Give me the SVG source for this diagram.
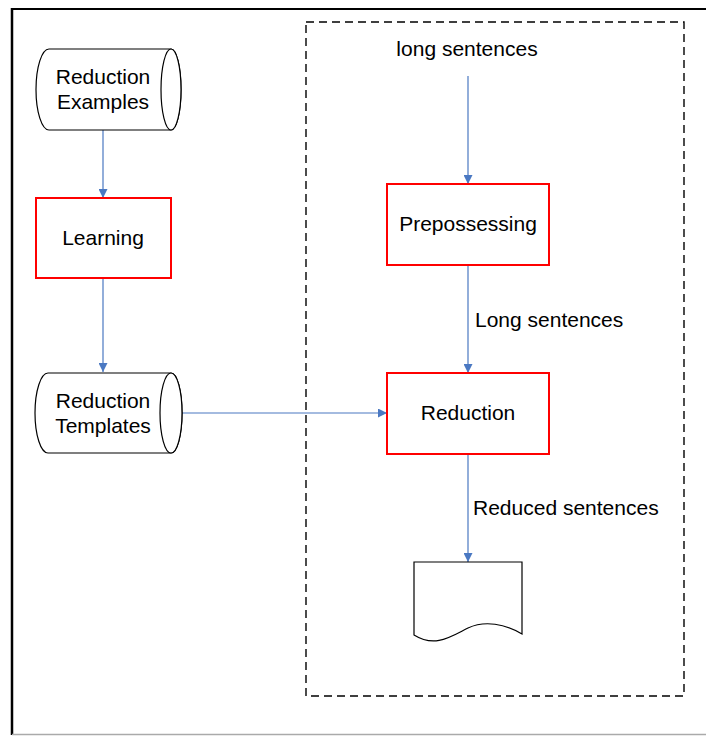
<svg xmlns="http://www.w3.org/2000/svg" width="706" height="736" viewBox="0 0 706 736">
<style>
text{font-family:"Liberation Sans",Arial,sans-serif;font-size:21px;fill:#000}
.c{text-anchor:middle}
.proc{fill:#fff;stroke:#ff0000;stroke-width:2}
.shape{fill:#fff;stroke:#000;stroke-width:1.2}
.conn{fill:none;stroke:#4a78c2;stroke-width:1.2;marker-end:url(#ah)}
</style>
<defs>
<marker id="ah" viewBox="0 0 10 10" refX="10" refY="5" markerWidth="9" markerHeight="9" markerUnits="userSpaceOnUse" orient="auto">
<path d="M0,0 L10,5 L0,10 z" fill="#4a78c2"/>
</marker>
</defs>
<rect width="706" height="736" fill="#fff"/>
<g id="frame">
<line x1="11" y1="9" x2="706" y2="9" stroke="#000" stroke-width="2"/>
<line x1="12" y1="8" x2="12" y2="735" stroke="#000" stroke-width="2.5"/>
<line x1="12" y1="734.5" x2="706" y2="734.5" stroke="#aaa" stroke-width="1.5"/>
</g>
<g id="boundary">
<rect x="306" y="22" width="378" height="674" fill="none" stroke="#000" stroke-width="1.4" stroke-dasharray="8,5"/>
</g>
<g id="connectors">
<line class="conn" x1="103" y1="130" x2="103" y2="198"/>
<line class="conn" x1="103" y1="279" x2="103" y2="372"/>
<line class="conn" x1="182" y1="413" x2="387" y2="413"/>
<line class="conn" x1="468" y1="76" x2="468" y2="184"/>
<line class="conn" x1="468" y1="266" x2="468" y2="373"/>
<line class="conn" x1="468" y1="455" x2="468" y2="562"/>
</g>
<g id="reduction-examples">
<path class="shape" d="M49,49 L171,49 A10,40.5 0 0 1 171,130 L49,130 A13,40.5 0 0 1 49,49 Z"/>
<ellipse class="shape" cx="171" cy="89.5" rx="10" ry="40.5"/>
<text class="c" x="103" y="84">Reduction</text>
<text class="c" x="103" y="109">Examples</text>
</g>
<g id="learning">
<rect class="proc" x="36" y="198" width="135" height="80"/>
<text class="c" x="103" y="245">Learning</text>
</g>
<g id="reduction-templates">
<path class="shape" d="M48,373 L171,373 A11,40 0 0 1 171,453 L48,453 A13,40 0 0 1 48,373 Z"/>
<ellipse class="shape" cx="171" cy="413" rx="11" ry="40"/>
<text class="c" x="103" y="408">Reduction</text>
<text class="c" x="103" y="433">Templates</text>
</g>
<g id="long-sentences-input">
<text class="c" x="467" y="56">long sentences</text>
</g>
<g id="prepossessing">
<rect class="proc" x="387" y="184" width="162" height="81"/>
<text class="c" x="468" y="231">Prepossessing</text>
</g>
<g id="label-long">
<text x="475" y="327">Long sentences</text>
</g>
<g id="reduction">
<rect class="proc" x="387" y="373" width="162" height="81"/>
<text class="c" x="468" y="420">Reduction</text>
</g>
<g id="label-reduced">
<text x="473" y="515">Reduced sentences</text>
</g>
<g id="document">
<path class="shape" d="M414,562 L522,562 L522,634 C505,624 485,620 468,628 C450,637 435,648 414,635 Z"/>
</g>
</svg>
